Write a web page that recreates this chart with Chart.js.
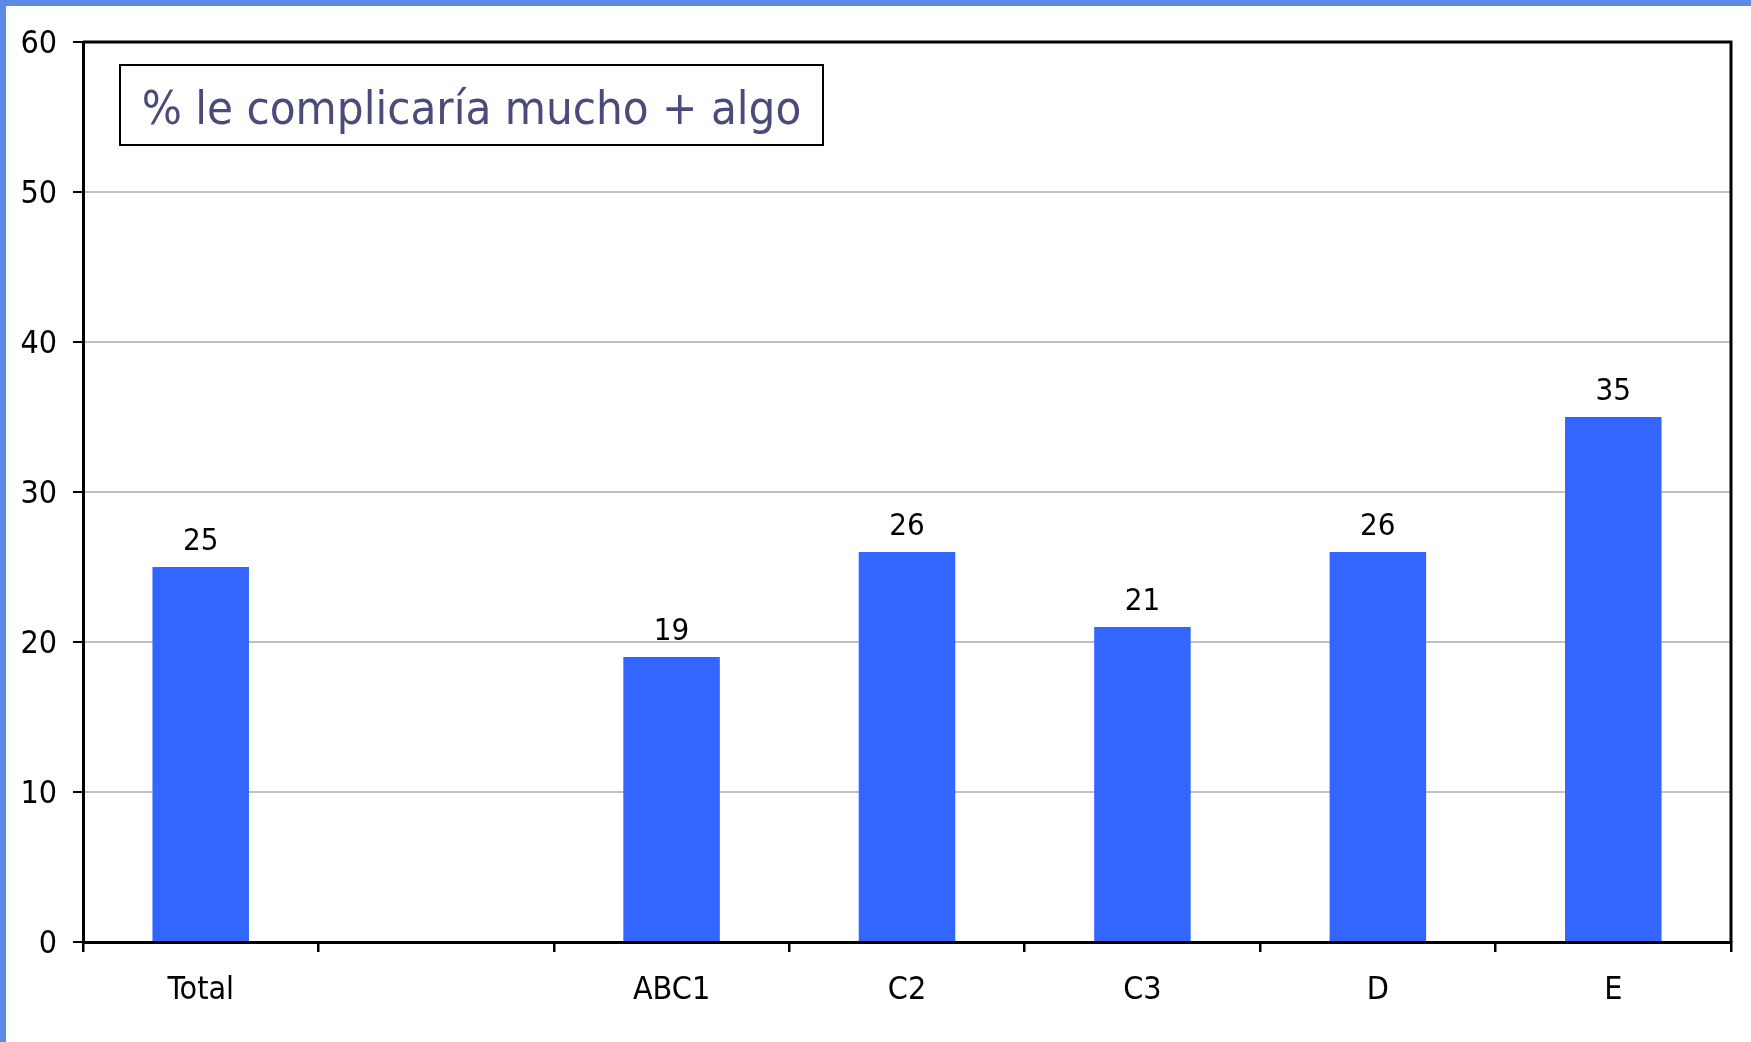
<!DOCTYPE html>
<html>
<head>
<meta charset="utf-8">
<script src="https://cdn.jsdelivr.net/npm/chart.js@4/dist/chart.umd.min.js"></script>
<style>
  html, body { margin: 0; padding: 0; background: #fff; }
  canvas { display: block; }
</style>
</head>
<body>
<canvas id="grafico" width="1751" height="1042"></canvas>
<script>
// datos
const categorias = ["Total", "", "ABC1", "C2", "C3", "D", "E"];
const valores = [25, null, 19, 26, 21, 26, 35];
const tituloCaja = "% le complicaría mucho + algo";

const fuente = '"DejaVu Sans Condensed", "DejaVu Sans", sans-serif';

// marco azul, caja del titulo, borde negro del area y etiquetas de valores
const extras = {
    id: 'extras',
    beforeDraw(chart) {
        const c = chart.ctx;
        c.save();
        c.fillStyle = '#5b8be6';
        c.fillRect(0, 0, chart.width, 6);
        c.fillRect(0, 0, 6, chart.height);
        c.restore();
    },
    afterDraw(chart) {
        const c = chart.ctx;
        const a = chart.chartArea;
        c.save();
        c.strokeStyle = '#000';
        c.lineWidth = 3;
        c.beginPath();
        c.moveTo(a.left, a.top);
        c.lineTo(a.right, a.top);
        c.lineTo(a.right, a.bottom);
        c.stroke();

        // caja del titulo
        c.lineWidth = 2;
        c.strokeRect(120, 65, 703, 80);
        c.fillStyle = '#4b4b7b';
        c.font = '47px ' + fuente;
        c.textAlign = 'center';
        c.textBaseline = 'alphabetic';
        c.fillText(tituloCaja, 471.5, 124);

        // valores sobre las barras
        const meta = chart.getDatasetMeta(0);
        c.fillStyle = '#000';
        c.font = '31px ' + fuente;
        meta.data.forEach((bar, i) => {
            const v = valores[i];
            if (v === null || v === undefined) return;
            c.fillText(String(v), bar.x, bar.y - 17);
        });
        c.restore();
    }
};

new Chart(document.getElementById('grafico'), {
    type: 'bar',
    data: {
        labels: categorias,
        datasets: [{
            data: valores,
            backgroundColor: '#3366ff',
            borderWidth: 0,
            barPercentage: 0.41,
            categoryPercentage: 1
        }]
    },
    options: {
        responsive: false,
        animation: false,
        layout: { padding: { top: 42, right: 20, left: 0, bottom: 0 } },
        plugins: {
            legend: { display: false },
            tooltip: { enabled: false }
        },
        scales: {
            x: {
                afterFit: (s) => { s.height = 100; },
                grid: {
                    offset: true,
                    drawOnChartArea: false,
                    tickLength: 10,
                    tickColor: '#000',
                    lineWidth: 2.5
                },
                border: { color: '#000', width: 3 },
                ticks: {
                    color: '#000',
                    font: { family: fuente, size: 32 },
                    padding: 19,
                    autoSkip: false,
                    maxRotation: 0
                }
            },
            y: {
                min: 0,
                max: 60,
                afterFit: (s) => { s.width = 83; },
                grid: {
                    color: '#c0c0c0',
                    lineWidth: 2,
                    tickColor: '#000',
                    tickLength: 10
                },
                border: { color: '#000', width: 3 },
                ticks: {
                    stepSize: 10,
                    color: '#000',
                    font: { family: fuente, size: 32 },
                    padding: 16,
                    labelOffset: 3
                }
            }
        }
    },
    plugins: [extras]
});
</script>
</body>
</html>
